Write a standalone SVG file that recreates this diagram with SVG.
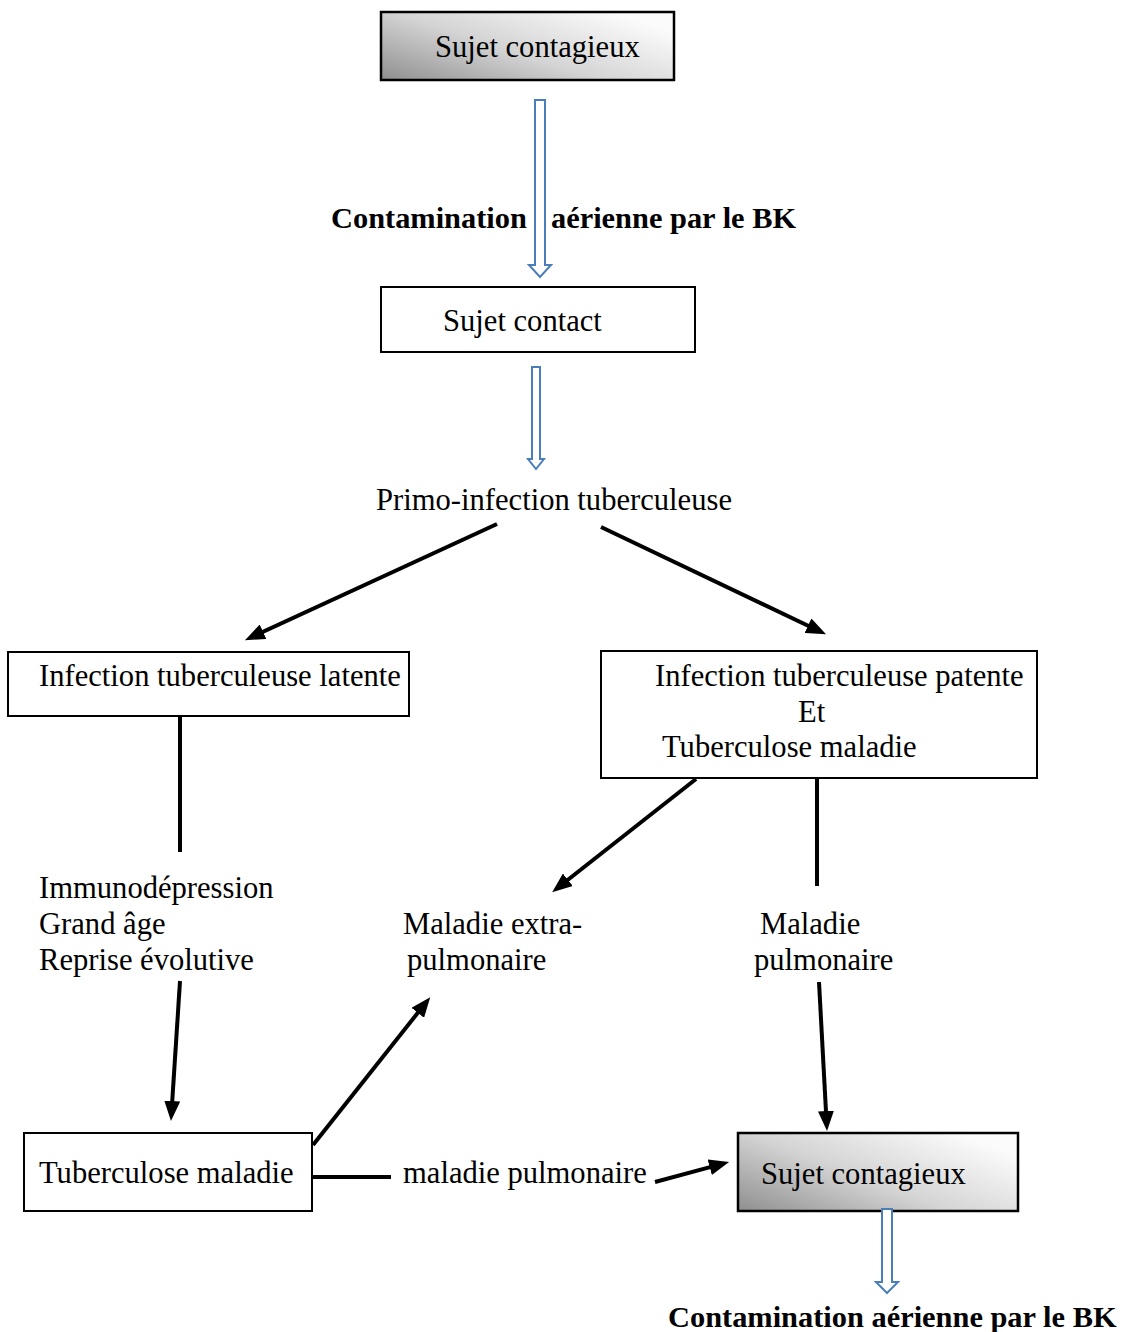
<svg xmlns="http://www.w3.org/2000/svg" width="1125" height="1332" viewBox="0 0 1125 1332">
<style>
.box{fill:#fff;stroke:#000;stroke-width:2}
.grad{fill:url(#g);stroke:#000;stroke-width:2.5}
.t{font-family:"Liberation Serif","Times New Roman",serif;font-size:30.6px;fill:#000}
.b{font-family:"Liberation Serif","Times New Roman",serif;font-size:30.4px;font-weight:bold;fill:#000}
.c{stroke:#000;stroke-width:4;fill:none}
.a{marker-end:url(#ah)}
.h{fill:#fff;stroke:#4a7ebb;stroke-width:2}
</style>
<defs>
<linearGradient id="g" x1="0" y1="1" x2="1" y2="0.3">
<stop offset="0" stop-color="#8f8f8f"/>
<stop offset="0.5" stop-color="#d4d4d4"/>
<stop offset="1" stop-color="#fbfbfb"/>
</linearGradient>
<marker id="ah" markerUnits="userSpaceOnUse" markerWidth="20" markerHeight="16" refX="10" refY="8" orient="auto">
<path d="M0,0 L20,8 L0,16 z" fill="#000"/>
</marker>
</defs>
<rect width="1125" height="1332" fill="#fff"/>

<g id="connectors">
<polygon class="h" points="535,100 545,100 545,265 551,265 540,277 529,265 535,265"/>
<polygon class="h" points="532,367 540,367 540,459 544,459 536,469 528,459 532,459"/>
<line class="c a" x1="497" y1="524" x2="254" y2="636"/>
<line class="c a" x1="601" y1="527" x2="817" y2="630"/>
<line class="c" x1="180" y1="717" x2="180" y2="852"/>
<line class="c a" x1="696" y1="779" x2="560" y2="886"/>
<line class="c" x1="817" y1="779" x2="817" y2="886"/>
<line class="c a" x1="819" y1="982" x2="826.5" y2="1121"/>
<line class="c a" x1="180" y1="981" x2="171.6" y2="1111"/>
<line class="c a" x1="313" y1="1145" x2="424" y2="1005"/>
<line class="c" x1="312" y1="1177" x2="391" y2="1177"/>
<line class="c a" x1="655" y1="1182" x2="719.4" y2="1164.6"/>
</g>

<g id="n-contagieux-top">
<rect class="grad" x="381" y="12" width="293" height="68"/>
<text class="t" x="435" y="57">Sujet contagieux</text>
</g>

<g id="lbl-contamination-top">
<text class="b" x="331" y="228">Contamination</text>
<text class="b" x="551" y="228">aérienne par le BK</text>
</g>

<g id="n-contact">
<rect class="box" x="381" y="287" width="314" height="65"/>
<text class="t" x="443" y="331">Sujet contact</text>
</g>

<g id="n-primo">
<text class="t" x="376" y="510">Primo-infection tuberculeuse</text>
</g>

<g id="n-latente">
<rect class="box" x="8" y="652" width="401" height="64"/>
<text class="t" x="39" y="686">Infection tuberculeuse latente</text>
</g>

<g id="n-patente">
<rect class="box" x="601" y="651" width="436" height="127"/>
<text class="t" x="655" y="686">Infection tuberculeuse patente</text>
<text class="t" x="798" y="722">Et</text>
<text class="t" x="662" y="757">Tuberculose maladie</text>
</g>

<g id="n-facteurs">
<text class="t" x="39" y="898">Immunodépression</text>
<text class="t" x="39" y="934">Grand âge</text>
<text class="t" x="39" y="970">Reprise évolutive</text>
</g>

<g id="n-extra">
<text class="t" x="403" y="934">Maladie extra-</text>
<text class="t" x="407" y="970">pulmonaire</text>
</g>

<g id="n-pulmonaire">
<text class="t" x="760" y="934">Maladie</text>
<text class="t" x="754" y="970">pulmonaire</text>
</g>

<g id="n-tb-maladie">
<rect class="box" x="24" y="1133" width="288" height="78"/>
<text class="t" x="39" y="1183">Tuberculose maladie</text>
</g>

<g id="lbl-maladie-pulmonaire">
<text class="t" x="403" y="1183">maladie pulmonaire</text>
</g>

<g id="n-contagieux-bottom">
<rect class="grad" x="738" y="1133" width="280" height="78"/>
<text class="t" x="761" y="1184">Sujet contagieux</text>
</g>

<g id="arrow-bottom">
<polygon class="h" points="882,1209 892,1209 892,1282 898,1282 887,1293 876,1282 882,1282"/>
</g>

<g id="lbl-contamination-bottom">
<text class="b" x="668" y="1327">Contamination aérienne par le BK</text>
</g>
</svg>
